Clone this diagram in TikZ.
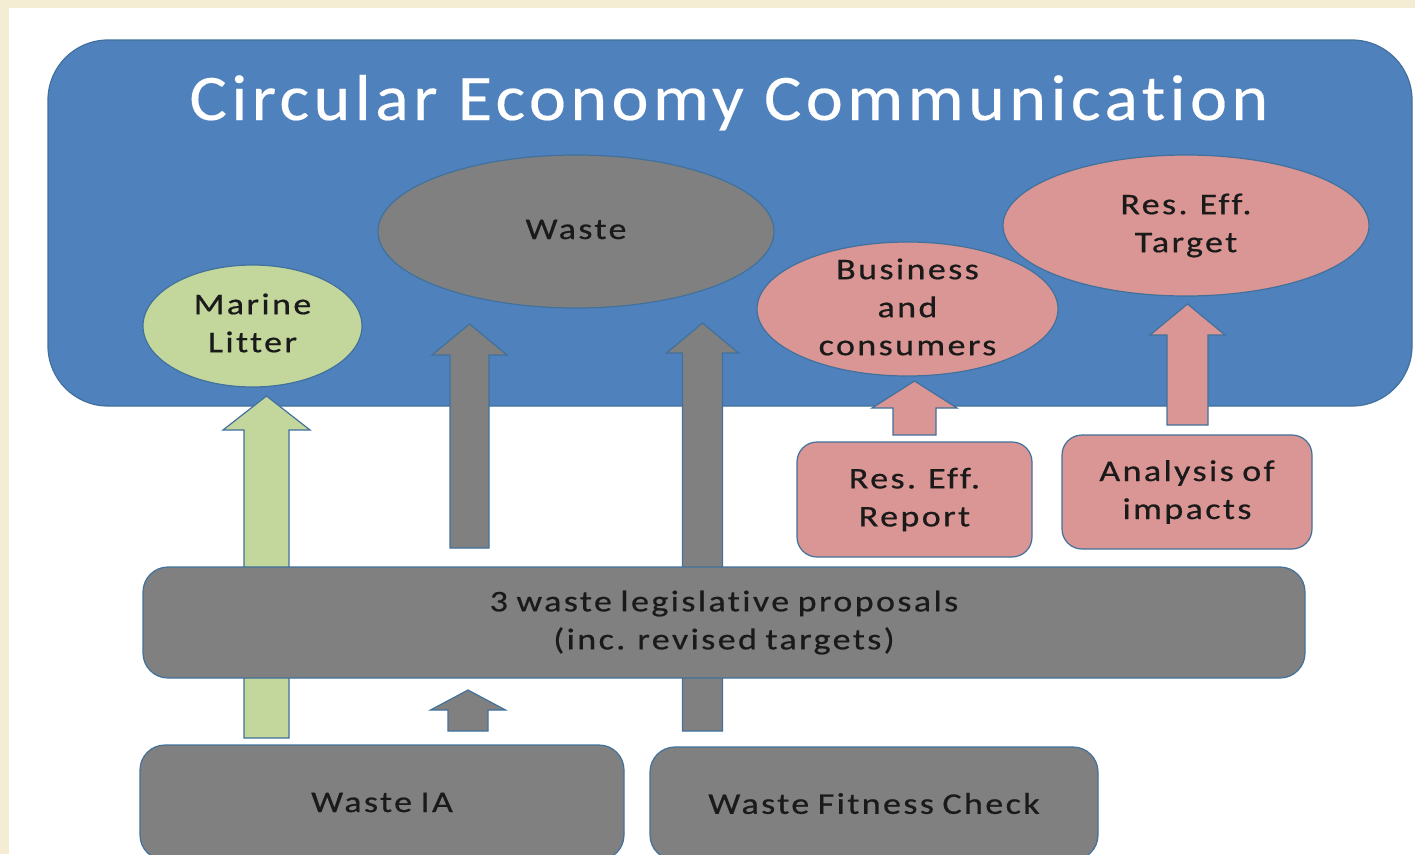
\documentclass[tikz,border=0pt]{standalone}
\usepackage{fontspec}
\setmainfont{Carlito}
\newfontfamily\lblfont[Ligatures={NoCommon,NoRare},LetterSpace=8,FakeStretch=1.2,FakeBold=0.6]{Carlito}
\newfontfamily\ttlfont[Ligatures={NoCommon,NoRare},LetterSpace=6.7,FakeStretch=1.08,FakeBold=0.3]{Carlito}
\newcommand\lblsetup{\lblfont\fontsize{30}{38}\selectfont\spaceskip 8.5pt plus 1pt minus 1pt\relax}
\usetikzlibrary{shapes.geometric,calc}
\definecolor{cream}{HTML}{F5ECD4}
\definecolor{bluebg}{HTML}{4F81BD}
\definecolor{edgec}{HTML}{41719C}
\definecolor{grayf}{HTML}{808080}
\definecolor{pinkf}{HTML}{D99694}
\definecolor{greenf}{HTML}{C3D69B}
\definecolor{txt}{HTML}{1A1A1A}
\tikzset{
  lbl/.style={font=\lblsetup, text=txt, align=center, inner sep=0pt},
  oval/.style={ellipse, draw=edgec, line width=1.2pt, inner sep=0pt},
  rbox/.style={lbl, rectangle, draw=edgec, line width=1.2pt, rounded corners=20pt},
  barrow/.style={draw=edgec, line width=1.2pt},
}
% block arrow pointing up: style, bottom coord, tip coord, shaft half width, head half width, head length
\newcommand\blockup[6]{%
  \path[#1] let \p1=(#2), \p2=(#3) in
    (\x1-#4pt,\y1) -- (\x1-#4pt,\y2-#6pt) -- (\x1-#5pt,\y2-#6pt) -- (\x1,\y2)
    -- (\x1+#5pt,\y2-#6pt) -- (\x1+#4pt,\y2-#6pt) -- (\x1+#4pt,\y1) -- cycle;}
\begin{document}
\begin{tikzpicture}[x=1pt,y=-1pt]
  \useasboundingbox (0,0) rectangle (1415,854);
  \fill[cream] (0,0) rectangle (1415,854);
  \fill[white] (9,8) rectangle (1415,854);

  % main container
  \node[fill=bluebg, draw=edgec, line width=1.2pt, rounded corners=60pt,
        minimum width=1364pt, minimum height=366pt, inner sep=0pt] (ce) at (730,223) {};
  \node[font=\ttlfont\fontsize{65}{78}\selectfont, text=white, anchor=base, inner sep=0pt]
        (title) at (729,120) {Circular Economy Communication};

  % ellipses
  \node[oval, fill=greenf, minimum width=219pt, minimum height=122pt] (ml) at (252.5,326) {};
  \node[lbl] (mlt) at ($(ml)+(0,-3)$) {Marine\\Litter};
  \node[oval, fill=grayf, minimum width=396pt, minimum height=153pt] (ws) at (576,231.5) {};
  \node[lbl] (wst) at ($(ws)+(0,-2)$) {Waste};
  \node[oval, fill=pinkf, minimum width=301pt, minimum height=134pt] (bc) at (907.5,309) {};
  \node[lbl] (bct) at ($(bc)+(0,-2)$) {Business\\and\\consumers};
  \node[oval, fill=pinkf, minimum width=366pt, minimum height=141pt] (rt) at (1186,225.5) {};
  \node[lbl] (rtt) at (rt) {Res. Eff.\\Target};

  % arrow end points
  \coordinate (gB) at (266.5,738);  \coordinate (gT) at (266.5,396);
  \coordinate (a1B) at (469.5,548); \coordinate (a1T) at (469.5,324);
  \coordinate (a2B) at (702.5,731); \coordinate (a2T) at (702.5,323);
  \coordinate (a3B) at (468,731);   \coordinate (a3T) at (468,690);
  \coordinate (p1B) at (914.5,435); \coordinate (p1T) at (914.5,381);
  \coordinate (p2B) at (1187.5,425);\coordinate (p2T) at (1187.5,304);

  \blockup{barrow,fill=greenf}{gB}{gT}{22.5}{43.5}{34}
  \blockup{barrow,fill=grayf}{a1B}{a1T}{19.5}{37.5}{31}
  \blockup{barrow,fill=grayf}{a2B}{a2T}{20}{36}{30}
  \blockup{barrow,fill=pinkf}{p1B}{p1T}{21.5}{42.5}{27}
  \blockup{barrow,fill=pinkf}{p2B}{p2T}{20.5}{37.5}{31}

  % boxes
  \node[rbox, fill=pinkf, minimum width=235pt, minimum height=115pt] (rr) at (914.5,499.5) {Res. Eff.\\Report};
  \node[rbox, fill=pinkf, minimum width=250pt, minimum height=114pt] (ai) at (1187,492) {Analysis of\\impacts};
  \node[rbox, fill=grayf, rounded corners=25pt, minimum width=1162pt, minimum height=111pt] (lp) at (724,622.5)
        {3 waste legislative proposals\\(inc. revised targets)};

  \blockup{barrow,fill=grayf}{a3B}{a3T}{20}{37.5}{20}

  \node[rbox, fill=grayf, rounded corners=25pt, minimum width=484pt, minimum height=115pt] (ia) at (382,802.5) {Waste IA};
  \node[rbox, fill=grayf, rounded corners=25pt, minimum width=448pt, minimum height=113pt] (fc) at (874,803.5) {Waste Fitness Check};
\end{tikzpicture}
\end{document}
